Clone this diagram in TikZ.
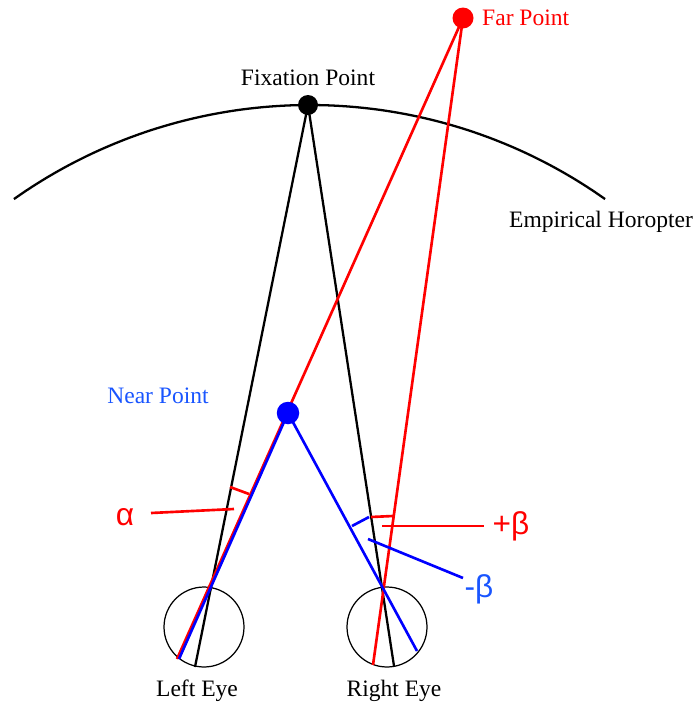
\documentclass[tikz,border=0pt]{standalone}
\usepackage{fontspec}
\setmainfont{Liberation Serif}
\newfontfamily\greekfont{Liberation Sans}
\usepackage{xcolor}
\usepackage{tikz}

\definecolor{farred}{RGB}{255,0,0}
\definecolor{nearblue}{RGB}{0,0,255}
\definecolor{labelblue}{RGB}{25,85,255}

\begin{document}
\begin{tikzpicture}[x=0.02cm, y=-0.02cm,
    lbl/.style={font=\fontsize{13.4}{16}\selectfont},
    greek/.style={font=\greekfont\fontsize{18}{21}\selectfont},
    ray/.style={line width=1.5pt},
    dot/.style={circle, fill, inner sep=0pt, minimum size=0.42cm},
    eyeball/.style={draw, circle, inner sep=0pt, line width=0.7pt, minimum size=1.6cm}]
    \useasboundingbox (0,0) rectangle (695,706);

    % horopter
    \draw[line width=1.3pt, domain=54.7:125.3, smooth, samples=50, variable=\t]
        plot ({309.5+511.5*cos(\t)}, {616.5-511.5*sin(\t)});

    % eyes
    \node[eyeball] (leye) at (204,627) {};
    \node[eyeball] (reye) at (387,627) {};

    \coordinate (fix) at (308,105);
    \coordinate (far) at (463,18);
    \coordinate (near) at (288,413);
    \coordinate (lblk) at (195,667);
    \coordinate (rblk) at (394,666);
    \coordinate (lred) at (177,659);
    \coordinate (rred) at (373,665);
    \coordinate (lblu) at (179,659);
    \coordinate (rblu) at (417,651);

    % lines of sight
    \draw[line width=1.3pt] (fix) -- (lblk);
    \draw[line width=1.3pt] (fix) -- (rblk);
    \draw[ray, farred] (far) -- (lred);
    \draw[ray, farred] (far) -- (rred);
    \draw[ray, nearblue] (near) -- (lblu);
    \draw[ray, nearblue] (near) -- (rblu);

    % angle marks
    \coordinate (a1) at (230,487);
    \coordinate (a2) at (249,494);
    \coordinate (ap1) at (151,513);
    \coordinate (ap2) at (234,509);
    \draw[ray, farred] (a1) -- (a2);
    \draw[ray, farred] (ap1) -- (ap2);
    \coordinate (b1) at (371,517);
    \coordinate (b2) at (393,516);
    \coordinate (bp1) at (382,526);
    \coordinate (bp2) at (484,526);
    \draw[ray, farred] (b1) -- (b2);
    \draw[ray, farred] (bp1) -- (bp2);
    \coordinate (c1) at (352,526);
    \coordinate (c2) at (369,517);
    \coordinate (cp1) at (368,539);
    \coordinate (cp2) at (463,578);
    \draw[ray, nearblue] (c1) -- (c2);
    \draw[ray, nearblue] (cp1) -- (cp2);

    % points
    \node[dot, minimum size=0.4cm] (fixdot) at (fix) {};
    \node[dot, farred] (fardot) at (far) {};
    \node[dot, nearblue, minimum size=0.45cm] (neardot) at (near) {};

    % labels
    \node[lbl] (fixlbl) at (308,78) {Fixation Point};
    \node[lbl, text=farred, anchor=west] (farlbl) at (476,18) {Far Point};
    \node[lbl, text=labelblue] (nearlbl) at (158,396) {Near Point};
    \node[lbl] (horlbl) at (601,222) {Empirical Horopter};
    \node[lbl] (leyelbl) at (197,691) {Left Eye};
    \node[lbl] (reyelbl) at (394,691) {Right Eye};
    \node[greek, text=farred] (alpha) at (125,517) {α};
    \node[greek, text=farred] (pbeta) at (511,526) {+β};
    \node[greek, text=labelblue] (mbeta) at (479,589) {-β};
\end{tikzpicture}
\end{document}
